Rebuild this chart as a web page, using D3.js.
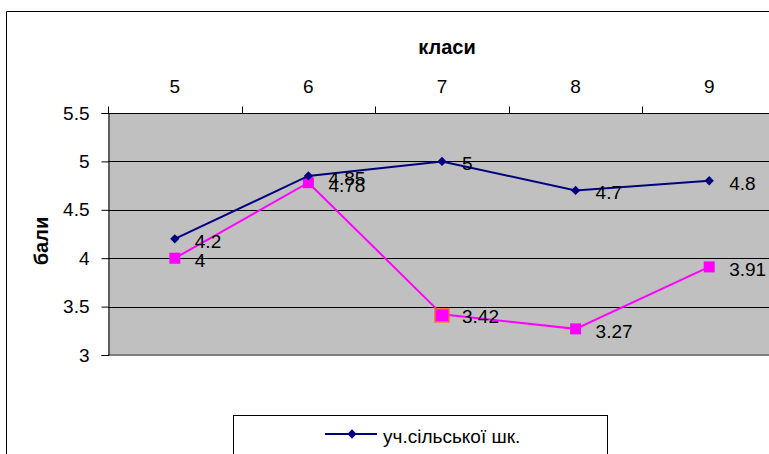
<!DOCTYPE html>
<html>
<head>
<meta charset="utf-8">
<script src="https://cdn.jsdelivr.net/npm/d3@7"></script>
<style>
body { margin: 0; background: #fff; }
svg { display: block; font-family: "Liberation Sans", Arial, sans-serif; }
</style>
</head>
<body>
<svg width="769" height="454"></svg>
<script>
var classes = ["5", "6", "7", "8", "9"];
var village = [4.2, 4.85, 5, 4.7, 4.8];
var other = [4, 4.78, 3.42, 3.27, 3.91];
var yTicks = [3, 3.5, 4, 4.5, 5, 5.5];

var svg = d3.select("svg");
var fs = 19;

// outer chart border (runs off the right/bottom edge)
svg.append("path")
  .attr("d", "M6.5,460 V11.5 H775")
  .attr("fill", "none")
  .attr("stroke", "#000")
  .attr("stroke-width", 1);

var plotLeft = 108, plotTop = 113, plotW = 668, plotH = 242;

var x = d3.scaleBand().domain(classes).range([plotLeft, plotLeft + plotW]);
var y = d3.scaleLinear().domain([3, 5.5]).range([plotTop + plotH, plotTop]);

// plot background
svg.append("rect")
  .attr("x", plotLeft).attr("y", plotTop)
  .attr("width", plotW).attr("height", plotH)
  .attr("fill", "#c0c0c0");

// gridlines
svg.append("g").selectAll("line")
  .data(yTicks.filter(function(d) { return d > 3 && d < 5.5; }))
  .enter().append("line")
  .attr("x1", plotLeft).attr("x2", plotLeft + plotW)
  .attr("y1", function(d) { return Math.round(y(d)) + 0.5; })
  .attr("y2", function(d) { return Math.round(y(d)) + 0.5; })
  .attr("stroke", "#000");

// bottom edge of plot area
svg.append("line")
  .attr("x1", plotLeft).attr("x2", plotLeft + plotW)
  .attr("y1", plotTop + plotH).attr("y2", plotTop + plotH)
  .attr("stroke", "#808080").attr("stroke-width", 2);

// left axis
var yAxis = svg.append("g")
  .attr("transform", "translate(" + (plotLeft + 0.5) + ",0)")
  .call(d3.axisLeft(y).tickValues(yTicks).tickSize(7).tickPadding(12)
    .tickFormat(function(d) { return d; }));
yAxis.selectAll("text").attr("font-size", fs).attr("fill", "#000")
  .attr("font-family", "Liberation Sans, Arial, sans-serif");
yAxis.selectAll("line,path").attr("stroke", "#000");

// top axis (categories)
var xAxis = svg.append("g").attr("transform", "translate(0," + (plotTop + 0.5) + ")");
xAxis.append("line")
  .attr("x1", plotLeft).attr("x2", plotLeft + plotW)
  .attr("stroke", "#000");
xAxis.selectAll(".tk")
  .data(classes)
  .enter().append("line")
  .attr("class", "tk")
  .attr("x1", function(d) { return Math.round(x(d)) + 0.5; })
  .attr("x2", function(d) { return Math.round(x(d)) + 0.5; })
  .attr("y1", 0).attr("y2", -7)
  .attr("stroke", "#000");
xAxis.selectAll("text")
  .data(classes)
  .enter().append("text")
  .attr("x", function(d) { return x(d) + x.bandwidth() / 2; })
  .attr("y", -20.5)
  .attr("text-anchor", "middle")
  .attr("font-size", fs)
  .text(function(d) { return d; });

// axis titles
svg.append("text")
  .attr("x", 447).attr("y", 54)
  .attr("text-anchor", "middle")
  .attr("font-size", 20).attr("font-weight", "bold")
  .text("класи");

svg.append("text")
  .attr("transform", "translate(48,241) rotate(-90)")
  .attr("text-anchor", "middle")
  .attr("font-size", 20).attr("font-weight", "bold")
  .text("бали");

var cx = function(d, i) { return x(classes[i]) + x.bandwidth() / 2; };
var line = d3.line()
  .x(function(d, i) { return cx(d, i); })
  .y(function(d) { return y(d); });

// magenta series
svg.append("path")
  .datum(other)
  .attr("d", line)
  .attr("fill", "none")
  .attr("stroke", "#ff00ff")
  .attr("stroke-width", 2);

svg.append("g").selectAll("rect")
  .data(other)
  .enter().append("rect")
  .attr("x", function(d, i) { return cx(d, i) - (i == 2 ? 7 : 5.5); })
  .attr("y", function(d) { return y(d) - 5.5; })
  .attr("width", function(d, i) { return i == 2 ? 14 : 11; })
  .attr("height", function(d, i) { return i == 2 ? 13 : 11; })
  .attr("fill", "#ff00ff")
  .attr("stroke", function(d, i) { return i == 2 ? "#ff6633" : "none"; })
  .attr("stroke-width", 1.5);

// navy series
svg.append("path")
  .datum(village)
  .attr("d", line)
  .attr("fill", "none")
  .attr("stroke", "#000080")
  .attr("stroke-width", 2);

var diamond = d3.symbol().type(d3.symbolDiamond2).size(55);
svg.append("g").selectAll("path")
  .data(village)
  .enter().append("path")
  .attr("d", diamond)
  .attr("transform", function(d, i) { return "translate(" + cx(d, i) + "," + y(d) + ")"; })
  .attr("fill", "#000080");

// data labels
function labels(data) {
  svg.append("g").selectAll("text")
    .data(data)
    .enter().append("text")
    .attr("x", function(d, i) { return cx(d, i) + 20; })
    .attr("y", function(d) { return y(d) + 9; })
    .attr("font-size", fs)
    .attr("fill", "#000")
    .text(function(d) { return d; });
}
labels(village);
labels(other);

// legend
var lg = svg.append("g");
lg.append("rect")
  .attr("x", 233.5).attr("y", 415.5)
  .attr("width", 374).attr("height", 40)
  .attr("fill", "#fff").attr("stroke", "#000");
lg.append("line")
  .attr("x1", 325).attr("x2", 377)
  .attr("y1", 434).attr("y2", 434)
  .attr("stroke", "#000080").attr("stroke-width", 2);
lg.append("path")
  .attr("d", diamond)
  .attr("transform", "translate(352,434)")
  .attr("fill", "#000080");
lg.append("text")
  .attr("x", 383).attr("y", 443)
  .attr("font-size", fs)
  .text("уч.сільської шк.");
</script>
</body>
</html>
